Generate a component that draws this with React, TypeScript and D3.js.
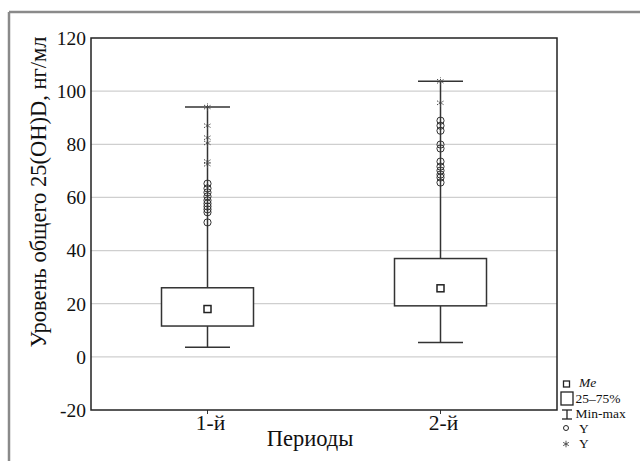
import React from 'react';
import * as d3 from 'd3';

const categories = ['1-й', '2-й'];
const mins = [3.6, 5.4];
const q1s = [11.6, 19.2];
const medians = [18, 25.8];
const q3s = [26, 37];
const maxs = [94, 103.7];
const outliers1 = [65.2, 63.4, 61.9, 60.4, 58.9, 57.7, 56.6, 55.5, 54.4, 50.6];
const extremes1 = [94, 87, 82.5, 80.5, 73.5, 72.5];
const outliers2 = [88.9, 87, 85.1, 79.9, 78.4, 73.5, 71.6, 70.1, 68.6, 67.5, 65.6];
const extremes2 = [103.7, 95.6];
const yTicks = [-20, 0, 20, 40, 60, 80, 100, 120];
const gridValues = [0, 20, 40, 60, 80, 100];
const legendLabels = ['Me', '25–75%', 'Min-max', 'Y', 'Y'];

const outliers = [outliers1, outliers2];
const extremes = [extremes1, extremes2];

const W = 640, H = 461;
const L = 91, R = 557, T = 38, B = 410;
const FONT = 'Liberation Serif, Times New Roman, serif';

export default function App() {
  const y = d3.scaleLinear().domain([-20, 120]).range([B, T]);
  const x = d3.scalePoint<string>().domain(categories).range([L, R]).padding(0.5);
  const boxW = 92;
  const capW = 45;
  const ast = d3.symbol(d3.symbolAsterisk, 45)() as string;

  return (
    <svg width={W} height={H} style={{ position: 'absolute', left: 0, top: 0, background: '#fff' }}>
      <line x1={9} y1={12} x2={9} y2={H} stroke="#8a8a8a" strokeWidth={2.5} />
      <line x1={9} y1={12} x2={W} y2={12} stroke="#8a8a8a" strokeWidth={2.5} />

      {gridValues.map(v => (
        <line key={v} x1={L} x2={R} y1={y(v)} y2={y(v)} stroke="#cfcfcf" strokeWidth={1.3} />
      ))}

      {yTicks.map(v => (
        <text key={v} x={L - 5} y={y(v)} dy="0.35em" textAnchor="end" style={{ fontFamily: FONT }} fontSize={19.5} fill="#111">
          {v}
        </text>
      ))}

      {categories.map(c => (
        <g key={c}>
          <line x1={x(c)} x2={x(c)} y1={B} y2={B + 4} stroke="#333" strokeWidth={1} />
          <text x={x(c)! + 3} y={B + 20} textAnchor="middle" style={{ fontFamily: FONT }} fontSize={21.5} fill="#111">{c}</text>
        </g>
      ))}

      {categories.map((c, i) => {
        const cx = x(c)!;
        return (
          <g key={c}>
            <line x1={cx} x2={cx} y1={y(maxs[i])} y2={y(q3s[i])} stroke="#333" strokeWidth={1.5} />
            <line x1={cx} x2={cx} y1={y(q1s[i])} y2={y(mins[i])} stroke="#333" strokeWidth={1.5} />
            <line x1={cx - capW / 2} x2={cx + capW / 2} y1={y(maxs[i])} y2={y(maxs[i])} stroke="#333" strokeWidth={1.5} />
            <line x1={cx - capW / 2} x2={cx + capW / 2} y1={y(mins[i])} y2={y(mins[i])} stroke="#333" strokeWidth={1.5} />
            <rect x={cx - boxW / 2} y={y(q3s[i])} width={boxW} height={y(q1s[i]) - y(q3s[i])} fill="#fff" stroke="#333" strokeWidth={1.5} />
            <rect x={cx - 3.5} y={y(medians[i]) - 3.5} width={7} height={7} fill="#fff" stroke="#222" strokeWidth={1.5} />
            {outliers[i].map((v, k) => (
              <circle key={'o' + k} cx={cx} cy={y(v)} r={3.6} fill="none" stroke="#333" strokeWidth={1} />
            ))}
            {extremes[i].map((v, k) => (
              <path key={'e' + k} d={ast} transform={`translate(${cx},${y(v)})`} fill="none" stroke="#444" strokeWidth={1} strokeDasharray="1.5,1" />
            ))}
          </g>
        );
      })}

      <rect x={L} y={T} width={R - L} height={B - T} fill="none" stroke="#222" strokeWidth={1.5} />

      <text transform={`translate(46,${(T + B) / 2 - 32}) rotate(-90)`} textAnchor="middle" style={{ fontFamily: FONT }} fontSize={22.5} fill="#111">
        Уровень общего 25(OH)D, нг/мл
      </text>
      <text x={310} y={446} textAnchor="middle" style={{ fontFamily: FONT }} fontSize={22.5} fill="#111">Периоды</text>

      <g style={{ fontFamily: FONT }} fontSize={13.5} fill="#111">
        <rect x={563.5} y={381} width={6} height={6} fill="#fff" stroke="#222" strokeWidth={1.3} />
        <text x={579} y={387} fontStyle="italic">{legendLabels[0]}</text>
        <rect x={561} y={392} width={12} height={13} fill="#fff" stroke="#222" strokeWidth={1.3} />
        <text x={575.5} y={403}>{legendLabels[1]}</text>
        <line x1={562} x2={572} y1={410} y2={410} stroke="#222" strokeWidth={1.3} />
        <line x1={567} x2={567} y1={410} y2={419} stroke="#222" strokeWidth={1.3} />
        <line x1={562} x2={572} y1={419} y2={419} stroke="#222" strokeWidth={1.3} />
        <text x={575.5} y={418}>{legendLabels[2]}</text>
        <circle cx={566} cy={428} r={2.5} fill="none" stroke="#222" strokeWidth={1} />
        <text x={579} y={433}>{legendLabels[3]}</text>
        <path d={d3.symbol(d3.symbolAsterisk, 30)() as string} transform="translate(566,444)" fill="none" stroke="#444" strokeWidth={0.9} />
        <text x={579} y={448}>{legendLabels[4]}</text>
      </g>
    </svg>
  );
}
